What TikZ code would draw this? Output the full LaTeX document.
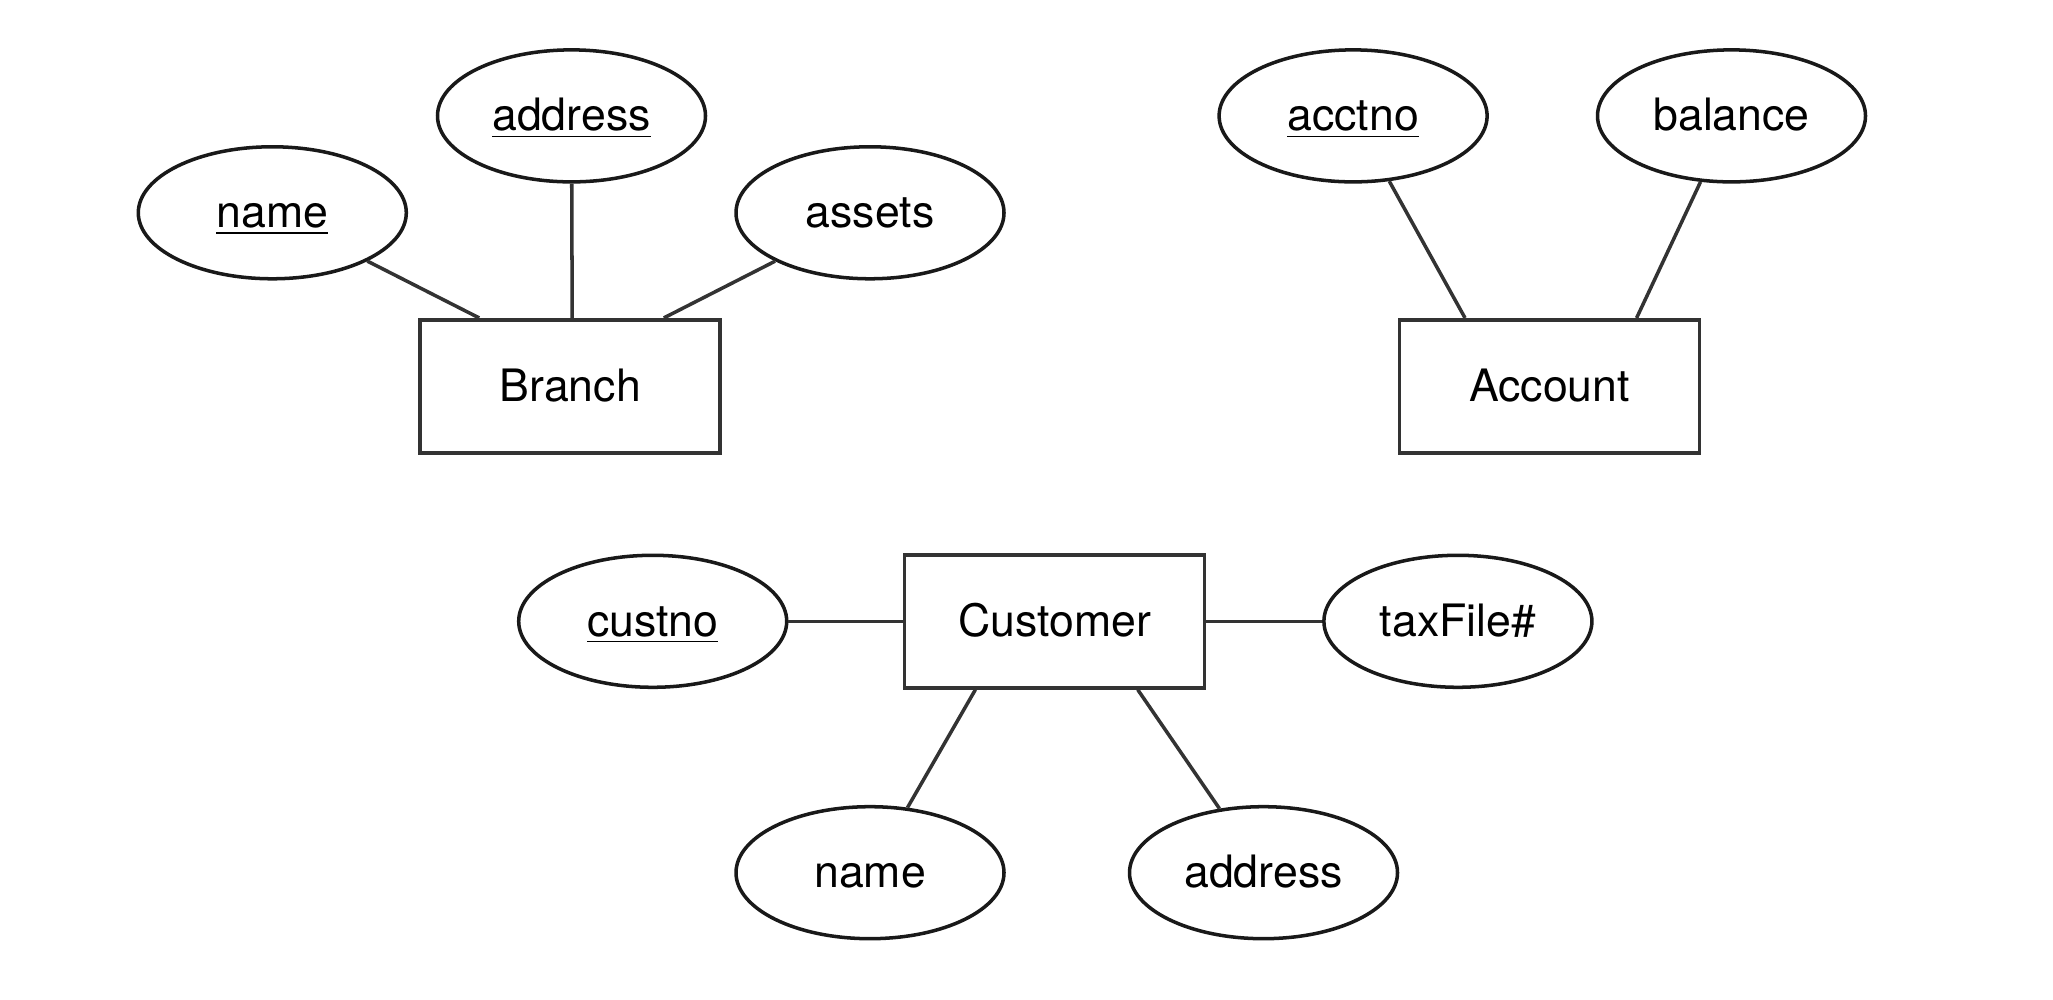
\documentclass[tikz,border=0pt]{standalone}
\usepackage{fontspec}
\setmainfont{TeX Gyre Heros}
\usetikzlibrary{shapes.geometric}

\tikzset{
    entity/.style={draw=black!80, line width=1.05pt, minimum width=3cm, minimum height=1.33cm, inner sep=0pt, text height=2.05ex, text depth=0.45ex},
    attr/.style={draw=black!90, ellipse, line width=1pt, minimum width=2.68cm, minimum height=1.32cm, inner sep=0pt, text height=2.05ex, text depth=0.45ex},
    link/.style={draw=black!80, line width=1pt}
}

\begin{document}
\begin{tikzpicture}[font=\fontsize{12.7pt}{15pt}\selectfont]
    % Fix the page to the size of the reference
    \useasboundingbox (0,0) rectangle (20.53,9.99);

    % Entities
    \node [entity] (branch) at (5.702, 6.127) {Branch};
    \node [entity] (account) at (15.495, 6.127) {Account};
    \node [entity] (customer) at (10.546, 3.777) {Customer};

    % Attributes of Branch
    \node [attr] (bname) at (2.723, 7.862) {\underline{name}};
    \node [attr] (baddress) at (5.715, 8.831) {\underline{address}};
    \node [attr] (bassets) at (8.700, 7.862) {assets};

    % Attributes of Account
    \node [attr] (acctno) at (13.531, 8.831) {\underline{acctno}};
    \node [attr] (balance) at (17.315, 8.831) {balance};

    % Attributes of Customer
    \node [attr] (custno) at (6.527, 3.777) {\underline{custno}};
    \node [attr] (taxfile) at (14.579, 3.777) {taxFile\#};
    \node [attr] (cname) at (8.700, 1.263) {name};
    \node [attr] (caddress) at (12.635, 1.263) {address};

    % Edges Branch
    \draw [link] (bname) -- ([xshift=-0.91cm]branch.north);
    \draw [link] (baddress) -- ([xshift=0.02cm]branch.north);
    \draw [link] (bassets) -- ([xshift=0.936cm]branch.north);

    % Edges Account
    \draw [link] (acctno) -- ([xshift=-0.845cm]account.north);
    \draw [link] (balance) -- ([xshift=0.871cm]account.north);

    % Edges Customer
    \draw [link] (custno) -- (customer);
    \draw [link] (taxfile) -- (customer);
    \draw [link] (cname) -- ([xshift=-0.792cm]customer.south);
    \draw [link] (caddress) -- ([xshift=0.831cm]customer.south);

\end{tikzpicture}
\end{document}
